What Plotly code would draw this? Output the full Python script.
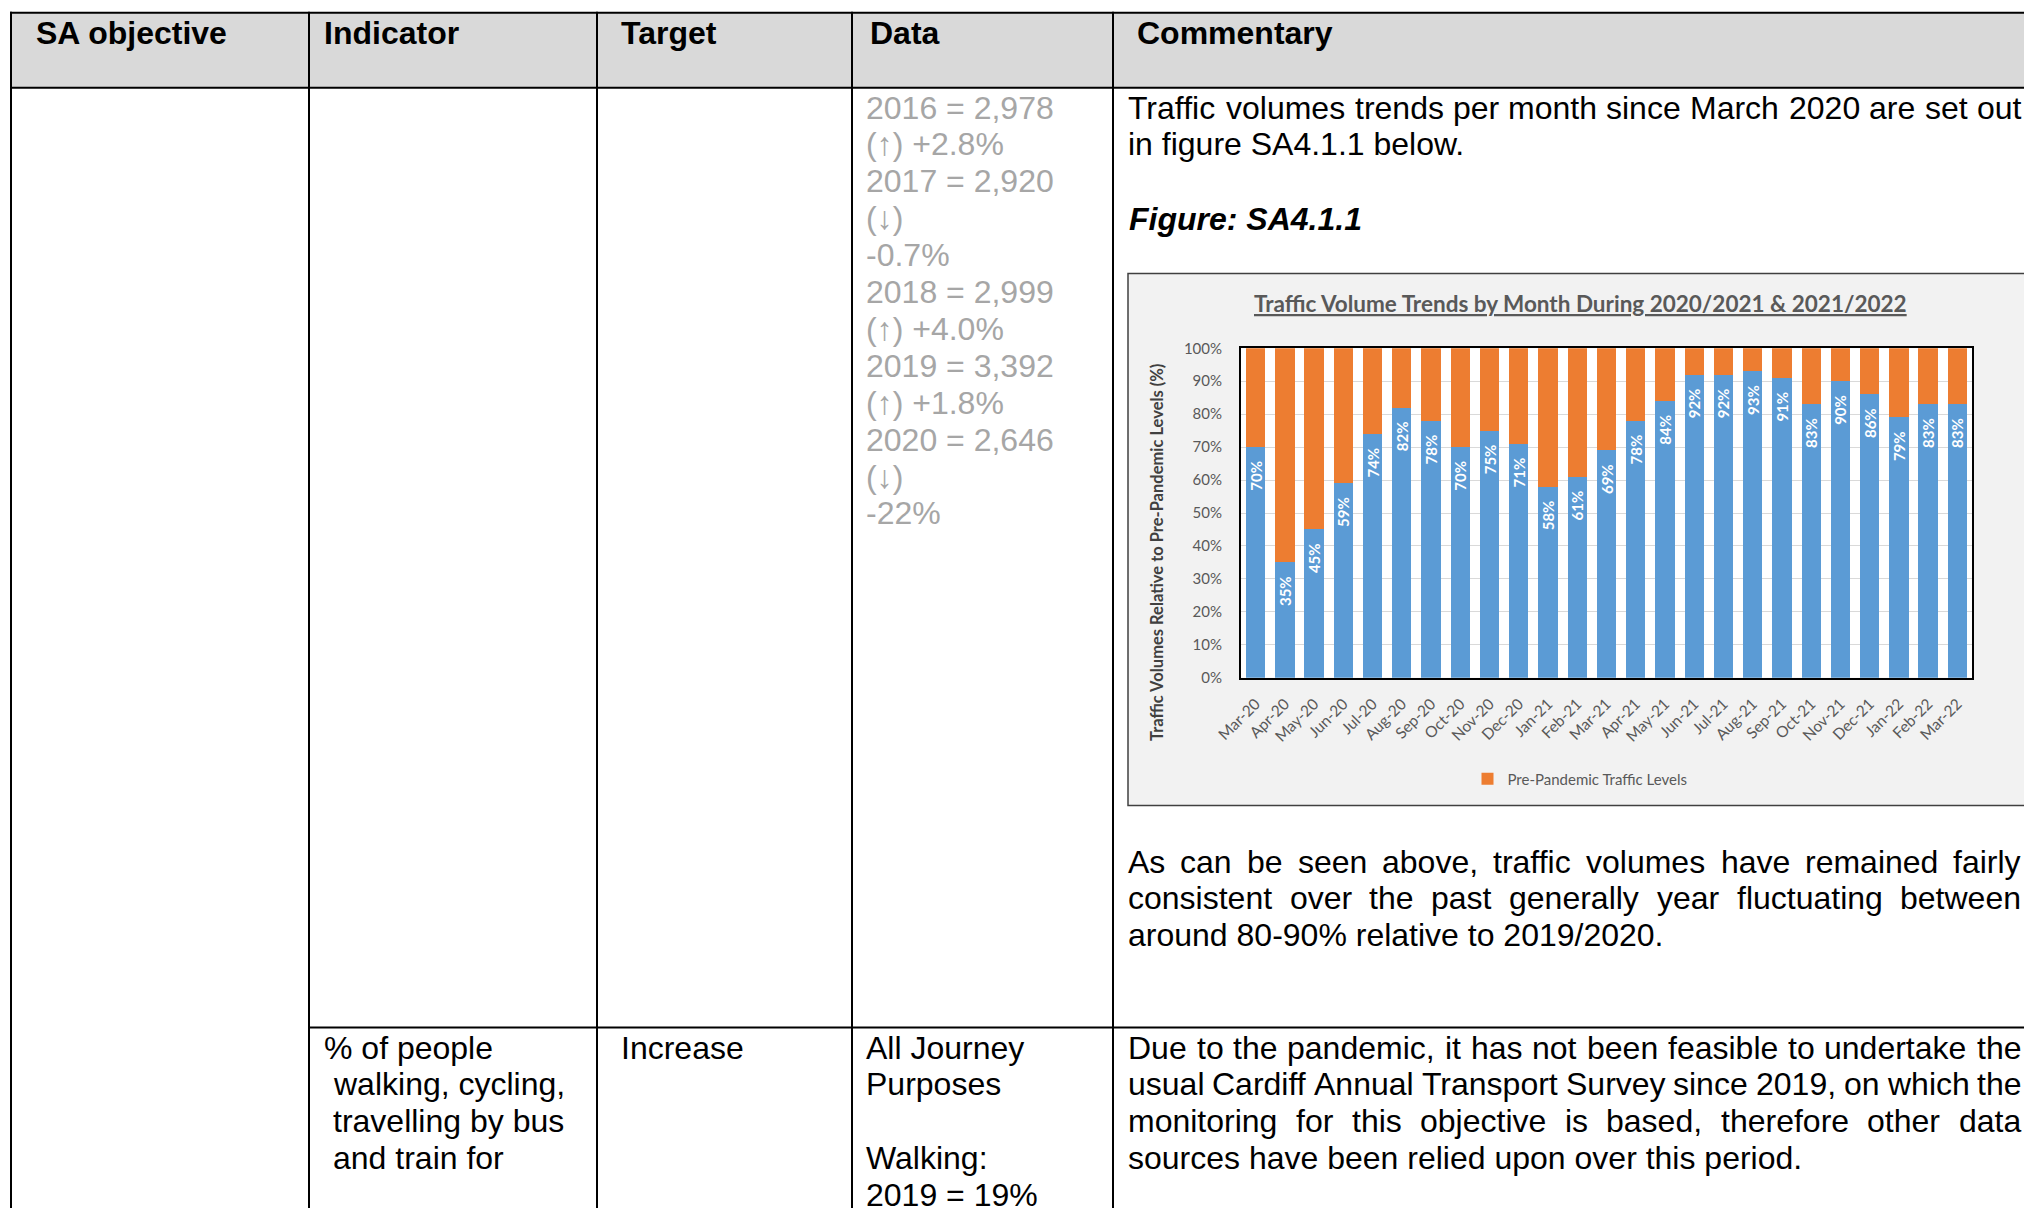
import plotly.graph_objects as go

W, H = 2024, 1208

# ---------------- chart data ----------------
months = ["Mar-20", "Apr-20", "May-20", "Jun-20", "Jul-20", "Aug-20", "Sep-20", "Oct-20",
          "Nov-20", "Dec-20", "Jan-21", "Feb-21", "Mar-21", "Apr-21", "May-21", "Jun-21",
          "Jul-21", "Aug-21", "Sep-21", "Oct-21", "Nov-21", "Dec-21", "Jan-22", "Feb-22", "Mar-22"]
traffic_pct = [70, 35, 45, 59, 74, 82, 78, 70, 75, 71, 58, 61, 69, 78, 84, 92, 92, 93, 91,
               83, 90, 86, 79, 83, 83]
pre_pandemic_pct = [100 - v for v in traffic_pct]
y_ticks = [0, 10, 20, 30, 40, 50, 60, 70, 80, 90, 100]
y_tick_labels = ["0%", "10%", "20%", "30%", "40%", "50%", "60%", "70%", "80%", "90%", "100%"]

chart_title = "Traffic Volume Trends by Month During 2020/2021 & 2021/2022"
y_title = "Traffic Volumes Relative to Pre-Pandemic Levels (%)"
legend_name = "Pre-Pandemic Traffic Levels"

# ---------------- table text ----------------
header_labels = ["SA objective", "Indicator", "Target", "Data", "Commentary"]
data_lines_row1 = ["2016 = 2,978", "(↑) +2.8%", "2017 = 2,920", "(↓)", "-0.7%",
                   "2018 = 2,999", "(↑) +4.0%", "2019 = 3,392", "(↑) +1.8%",
                   "2020 = 2,646", "(↓)", "-22%"]
comment_intro = ["Traffic volumes trends per month since March 2020 are set out",
                 "in figure SA4.1.1 below."]
figure_label = "Figure: SA4.1.1"
comment_after = ["As can be seen above, traffic volumes have remained fairly",
                 "consistent over the past generally year fluctuating between",
                 "around 80-90% relative to 2019/2020."]
indicator_row2 = ["% of people", "walking, cycling,", "travelling by bus", "and train for"]
target_row2 = ["Increase"]
data_row2 = ["All Journey", "Purposes", "", "Walking:", "2019 = 19%"]
comment_row2 = ["Due to the pandemic, it has not been feasible to undertake the",
                "usual Cardiff Annual Transport Survey since 2019, on which the",
                "monitoring for this objective is based, therefore other data",
                "sources have been relied upon over this period."]

# ---------------- helpers ----------------
def px(x):
    return x / W


def py(y):
    return 1 - y / H


ARIAL = {' ': 278, '!': 278, '%': 889, ',': 278, '-': 333, '.': 278, '/': 278, ':': 278,
         '=': 584, '(': 333, ')': 333}
for d in "0123456789":
    ARIAL[d] = 556
ARIAL.update(dict(zip("ABCDEFGHIJKLMNOPQRSTUVWXYZ",
                      [667, 667, 722, 722, 667, 611, 778, 722, 278, 500, 667, 556, 833,
                       722, 778, 667, 778, 722, 667, 611, 722, 667, 944, 667, 667, 611])))
ARIAL.update(dict(zip("abcdefghijklmnopqrstuvwxyz",
                      [556, 556, 500, 556, 556, 278, 556, 556, 222, 222, 500, 222, 833,
                       556, 556, 556, 556, 333, 500, 278, 556, 500, 722, 500, 500, 500])))


def tw(s, size):
    return sum(ARIAL.get(c, 556) for c in s) / 1000.0 * size


BODY_FONT = "Liberation Sans, Arial, sans-serif"
CHART_FONT = "Lato, Carlito, Calibri, sans-serif"
FS = 32
LH = 36.9

annotations = []


def txt(x, y, s, size=FS, color="#000000", family=BODY_FONT, xanchor="left", angle=0):
    annotations.append(dict(x=px(x), y=py(y), xref="paper", yref="paper", text=s,
                            showarrow=False, xanchor=xanchor, yanchor="middle",
                            textangle=angle, borderpad=0, borderwidth=0,
                            font=dict(family=family, size=size, color=color)))


def justified(line, x0, x1, y, size=FS):
    words = line.split(" ")
    widths = [tw(w, size) for w in words]
    gap = (x1 - x0 - sum(widths)) / (len(words) - 1)
    x = x0
    for w, wd in zip(words, widths):
        txt(x, y, w, size)
        x += wd + gap


# ---------------- table geometry ----------------
top, head_b, row_b = 12.7, 87.7, 1027.5
cols = [11, 309, 597, 852, 1113]
right = 2030
shapes = []
shapes.append(dict(type="rect", xref="paper", yref="paper", x0=px(cols[0]), x1=px(right),
                   y0=py(head_b), y1=py(top), fillcolor="#d9d9d9", line=dict(width=0),
                   layer="below"))
# chart box and white plot area
cb_l, cb_t, cb_b = 1128, 273.5, 805.5
pl_l, pl_r, pl_t, pl_b = 1241, 1972, 348.3, 677.7
shapes.append(dict(type="rect", xref="paper", yref="paper", x0=px(cb_l), x1=px(2060),
                   y0=py(cb_b), y1=py(cb_t), fillcolor="#f2f2f2",
                   line=dict(color="#404040", width=1.5), layer="below"))
shapes.append(dict(type="rect", xref="paper", yref="paper", x0=px(pl_l), x1=px(pl_r),
                   y0=py(pl_b), y1=py(pl_t), fillcolor="#ffffff", line=dict(width=0),
                   layer="below"))


def hline(y, x0, x1):
    shapes.append(dict(type="line", xref="paper", yref="paper", x0=px(x0), x1=px(x1),
                       y0=py(y), y1=py(y), line=dict(color="#000000", width=2)))


def vline(x, y0, y1):
    shapes.append(dict(type="line", xref="paper", yref="paper", x0=px(x), x1=px(x),
                       y0=py(y0), y1=py(y1), line=dict(color="#000000", width=2)))


hline(top, cols[0] - 1, right)
hline(head_b, cols[0] - 1, right)
hline(row_b, cols[1], right)
for c in cols:
    vline(c, top - 1, H + 5)

# ---------------- table text ----------------
head_x = [36, 324, 621, 870, 1137]
for x, s in zip(head_x, header_labels):
    txt(x, 33.5, "<b>" + s + "</b>")

y0 = 107.5
for i, s in enumerate(data_lines_row1):
    txt(866, y0 + i * LH, s, color="#a6a6a6")

justified(comment_intro[0], 1128, 2021, y0)
txt(1128, y0 + LH, comment_intro[1])
txt(1129, 219, "<b><i>" + figure_label + "</i></b>")

y_after = 861.5
justified(comment_after[0], 1128, 2021, y_after)
justified(comment_after[1], 1128, 2021, y_after + LH)
txt(1128, y_after + 2 * LH, comment_after[2])

y_r2 = 1047.5
for i, s in enumerate(indicator_row2):
    txt(324 if i == 0 else 333, y_r2 + i * LH, s)
txt(621, y_r2, target_row2[0])
for i, s in enumerate(data_row2):
    if s:
        txt(866, y_r2 + i * LH, s)
for i, s in enumerate(comment_row2):
    if i < len(comment_row2) - 1:
        justified(s, 1128, 2021, y_r2 + i * LH)
    else:
        txt(1128, y_r2 + i * LH, s)

# chart title and y-axis title
txt(1580, 303, "<b><u>" + chart_title + "</u></b>", size=22.5, color="#595959",
    family=CHART_FONT, xanchor="center")
txt(1157, 553, "<b>" + y_title + "</b>", size=16.5, color="#404040",
    family=CHART_FONT, xanchor="center", angle=-90)

# ---------------- bars ----------------
NBSP = "\u00a0"
fig = go.Figure()
fig.add_trace(go.Bar(
    x=months, y=traffic_pct, name="Traffic Volumes", showlegend=False,
    marker=dict(color="#5b9bd5", line=dict(width=0)),
    text=[f"{v}%" + NBSP * 3 for v in traffic_pct], textposition="inside",
    insidetextanchor="end",
    textangle=-90, textfont=dict(family=CHART_FONT, size=15, color="#ffffff", weight="bold"),
    hoverinfo="skip"))
fig.add_trace(go.Bar(
    x=months, y=pre_pandemic_pct, name=legend_name,
    marker=dict(color="#ed7d31", line=dict(width=0)), hoverinfo="skip"))

fig.update_layout(
    width=W, height=H, margin=dict(l=0, r=0, t=0, b=0, pad=0, autoexpand=False),
    paper_bgcolor="#ffffff", plot_bgcolor="rgba(0,0,0,0)",
    barmode="stack", bargap=0.34,
    uniformtext=dict(minsize=15, mode="show"),
    shapes=shapes, annotations=annotations,
    showlegend=True,
    legend=dict(orientation="h", x=px(1580), y=py(779), xanchor="center", yanchor="middle",
                itemwidth=30,
                bgcolor="rgba(0,0,0,0)", font=dict(family=CHART_FONT, size=15, color="#595959")),
    xaxis=dict(domain=[px(pl_l), px(pl_r)], tickangle=-45, showgrid=False,
               ticks="outside", ticklen=9, tickcolor="rgba(0,0,0,0)",
               tickfont=dict(family=CHART_FONT, size=15.5, color="#595959"),
               showline=True, mirror=True, linecolor="#000000", linewidth=2),
    yaxis=dict(domain=[py(pl_b), py(pl_t)], range=[0, 100], tickmode="array",
               tickvals=y_ticks, ticktext=y_tick_labels,
               showgrid=True, gridcolor="#d9d9d9", gridwidth=1,
               ticks="outside", ticklen=14, tickcolor="rgba(0,0,0,0)",
               tickfont=dict(family=CHART_FONT, size=15, color="#595959"),
               showline=True, mirror=True, linecolor="#000000", linewidth=2,
               zeroline=False),
)

fig.write_html("out.html", config={"displayModeBar": False},
               post_script="document.body.style.margin='0';document.body.style.overflow='hidden';")
